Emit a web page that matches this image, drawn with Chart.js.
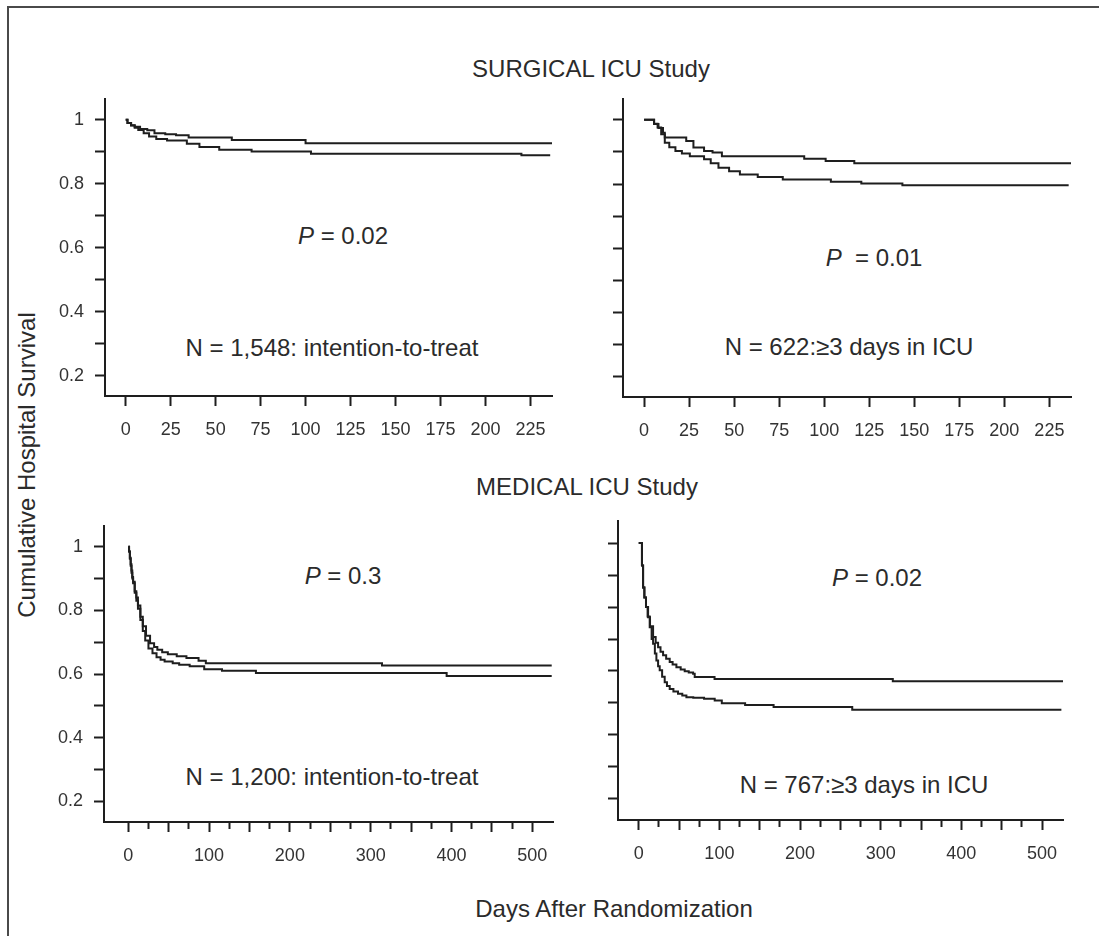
<!DOCTYPE html>
<html>
<head>
<meta charset="utf-8">
<script src="https://cdn.jsdelivr.net/npm/chart.js@4.4.1/dist/chart.umd.min.js"></script>
<style>
  body { margin: 0; background: #fff; width: 1099px; height: 936px; overflow: hidden; position: relative;
         font-family: "Liberation Sans", Arial, sans-serif; color: #2b2b2b; }
  .frame { position: absolute; left: 7px; top: 6px; width: 1100px; height: 940px;
           border-top: 2px solid #4a4a4a; border-left: 2px solid #4a4a4a; }
  canvas { position: absolute; }
  .txt { position: absolute; font-size: 24px; line-height: 24px; white-space: nowrap; transform: translate(-50%, -50%); }
  .ylab { transform: translate(-50%, -50%) rotate(-90deg); }
</style>
</head>
<body>
<div class="frame"></div>

<div class="txt" style="left:591px; top:69px;">SURGICAL ICU Study</div>
<div class="txt" style="left:587px; top:487px;">MEDICAL ICU Study</div>
<div class="txt" style="left:614px; top:909px;">Days After Randomization</div>
<div class="txt ylab" style="left:27px; top:465px;">Cumulative Hospital Survival</div>

<div class="txt" style="left:343px; top:236px;"><i>P</i> = 0.02</div>
<div class="txt" style="left:332px; top:348px;">N = 1,548: intention-to-treat</div>
<div class="txt" style="left:874px; top:258px;"><i>P</i>&nbsp; = 0.01</div>
<div class="txt" style="left:849px; top:347px;">N = 622:≥3 days in ICU</div>
<div class="txt" style="left:343px; top:576px;"><i>P</i> = 0.3</div>
<div class="txt" style="left:332px; top:777px;">N = 1,200: intention-to-treat</div>
<div class="txt" style="left:877px; top:578px;"><i>P</i> = 0.02</div>
<div class="txt" style="left:864px; top:785px;">N = 767:≥3 days in ICU</div>

<canvas id="c1"></canvas>
<canvas id="c2"></canvas>
<canvas id="c3"></canvas>
<canvas id="c4"></canvas>

<script>
// Surgical ICU, intention-to-treat (days, survival)
const surgIttDaysA = [0, 1, 3, 5, 8, 12, 16, 22, 28, 35, 59, 100, 237];
const surgIttSurvA = [1, 0.99, 0.983, 0.978, 0.971, 0.967, 0.958, 0.955, 0.952, 0.945, 0.937, 0.927, 0.927];
const surgIttDaysB = [0, 1, 3, 5, 7, 10, 13, 17, 23, 34, 41, 52, 70, 103, 220, 236];
const surgIttSurvB = [1, 0.99, 0.982, 0.975, 0.968, 0.958, 0.948, 0.94, 0.935, 0.925, 0.915, 0.906, 0.901, 0.894, 0.889, 0.889];

// Surgical ICU, >= 3 days in ICU
const surg3dDaysA = [0, 3.5, 5.6, 8, 10.5, 11.5, 23.4, 27.4, 33.3, 38, 43.2, 88.9, 100.8, 116.7, 237];
const surg3dSurvA = [1, 1, 0.987, 0.975, 0.96, 0.945, 0.934, 0.914, 0.903, 0.898, 0.887, 0.879, 0.872, 0.865, 0.865];
const surg3dDaysB = [0, 3.5, 5.5, 7.5, 9.5, 11.5, 14, 17.4, 21, 25.4, 33.3, 37, 41.3, 47.2, 53.2, 63.1, 77, 103.7, 120.6, 143.4, 235.7];
const surg3dSurvB = [1, 1, 0.988, 0.976, 0.955, 0.929, 0.915, 0.903, 0.895, 0.887, 0.877, 0.865, 0.851, 0.84, 0.83, 0.822, 0.814, 0.807, 0.802, 0.796, 0.796];

// Medical ICU, intention-to-treat
const medIttDaysA = [0, 1, 2, 3, 4, 5, 6, 8, 10, 12, 15, 18, 22, 27, 32, 36, 42, 49, 60, 72, 87, 96, 314, 524];
const medIttSurvA = [1, 0.985, 0.965, 0.945, 0.925, 0.905, 0.89, 0.86, 0.84, 0.815, 0.78, 0.75, 0.72, 0.697, 0.685, 0.676, 0.668, 0.662, 0.656, 0.65, 0.642, 0.634, 0.627, 0.627];
const medIttDaysB = [0, 1, 2, 3, 4, 5, 6, 8, 10, 12, 15, 18, 21, 25, 30, 35, 40, 45, 55, 63, 76, 94, 116, 158, 394, 524];
const medIttSurvB = [1, 0.985, 0.962, 0.94, 0.918, 0.9, 0.885, 0.855, 0.83, 0.805, 0.77, 0.735, 0.705, 0.68, 0.665, 0.653, 0.645, 0.639, 0.634, 0.629, 0.624, 0.615, 0.61, 0.603, 0.594, 0.594];

// Medical ICU, >= 3 days in ICU
const med3dDaysA = [0, 3, 4, 5.4, 7, 9, 11.6, 14, 17.8, 21, 24, 27, 30.2, 34, 38.4, 42, 46.7, 52, 57, 62, 67.4, 69.4, 94, 315, 527];
const med3dSurvA = [1, 1, 0.93, 0.862, 0.83, 0.8, 0.768, 0.74, 0.706, 0.688, 0.674, 0.66, 0.649, 0.638, 0.628, 0.62, 0.612, 0.605, 0.599, 0.595, 0.591, 0.581, 0.575, 0.568, 0.568];
const med3dDaysB = [0, 3, 4, 5.4, 7, 9, 11, 13.6, 16, 17.8, 20, 21.9, 24, 26, 29, 32.2, 35, 38.4, 43, 48.7, 54, 59.1, 67.6, 81, 94.2, 103, 131.9, 167.2, 264.7, 524];
const med3dSurvB = [1, 1, 0.93, 0.86, 0.83, 0.8, 0.77, 0.737, 0.7, 0.685, 0.655, 0.633, 0.615, 0.602, 0.582, 0.565, 0.553, 0.544, 0.536, 0.529, 0.523, 0.518, 0.516, 0.513, 0.508, 0.499, 0.494, 0.487, 0.479, 0.479];

// Tick values and labels
const survivalTicks = [0.2, 0.3, 0.4, 0.5, 0.6, 0.7, 0.8, 0.9, 1];
const survivalLabels = ['0.2', '', '0.4', '', '0.6', '', '0.8', '', '1'];
const surgicalDayTicks = [0, 25, 50, 75, 100, 125, 150, 175, 200, 225];
const surgicalDayLabels = ['0', '25', '50', '75', '100', '125', '150', '175', '200', '225'];
const medicalDayTicks = [0, 25, 50, 75, 100, 125, 150, 175, 200, 225, 250, 275, 300, 325, 350, 375, 400, 425, 450, 475, 500];
const medicalDayLabels = ['0', '', '', '', '100', '', '', '', '200', '', '', '', '300', '', '', '', '400', '', '', '', '500'];

document.addEventListener('DOMContentLoaded', function() {
    const ink = '#1e1e1e';
    const font = { family: '"Liberation Sans", Arial, sans-serif', size: 18 };

    // plot area position (axis lines) for each panel
    const panels = [
        { id: 'c1', left: 105, top: 99, w: 447, h: 297, xMin: -11.5, xMax: 237, yMin: 0.1365, yMax: 1.065,
          xTicks: surgicalDayTicks, xLabels: surgicalDayLabels, minor: false, yLabels: true,
          series: [[surgIttDaysA, surgIttSurvA], [surgIttDaysB, surgIttSurvB]] },
        { id: 'c2', left: 623, top: 99, w: 448, h: 298, xMin: -11.7, xMax: 237, yMin: 0.1365, yMax: 1.065,
          xTicks: surgicalDayTicks, xLabels: surgicalDayLabels, minor: false, yLabels: false,
          series: [[surg3dDaysA, surg3dSurvA], [surg3dDaysB, surg3dSurvB]] },
        { id: 'c3', left: 104, top: 526, w: 449, h: 296, xMin: -30, xMax: 525.6, yMin: 0.135, yMax: 1.065,
          xTicks: medicalDayTicks, xLabels: medicalDayLabels, minor: true, yLabels: true,
          series: [[medIttDaysA, medIttSurvA], [medIttDaysB, medIttSurvB]] },
        { id: 'c4', left: 618, top: 521, w: 445, h: 299, xMin: -25.7, xMax: 526, yMin: 0.134, yMax: 1.069,
          xTicks: medicalDayTicks, xLabels: medicalDayLabels, minor: true, yLabels: false,
          series: [[med3dDaysA, med3dSurvA], [med3dDaysB, med3dSurvB]] }
    ];

    panels.forEach(createChart);

    function createChart(p) {
        // padding big enough that the scales' own label padding never wins
        const padL = 70, padT = 30, padR = 30, padB = 50;
        const canvas = document.getElementById(p.id);
        canvas.width = p.w + padL + padR;
        canvas.height = p.h + padT + padB;
        canvas.style.left = (p.left - padL) + 'px';
        canvas.style.top = (p.top - padT) + 'px';

        const datasets = p.series.map(function(s) {
            return {
                data: s[0].map((d, i) => ({ x: d, y: s[1][i] })),
                borderColor: ink,
                borderWidth: 2,
                pointRadius: 0,
                stepped: true,
                fill: false
            };
        });

        new Chart(canvas.getContext('2d'), {
            type: 'line',
            data: { datasets: datasets },
            options: {
                responsive: false,
                animation: false,
                layout: { padding: { top: padT, right: padR, left: 0, bottom: 0 } },
                plugins: { legend: { display: false }, tooltip: { enabled: false } },
                scales: {
                    x: {
                        type: 'linear',
                        min: p.xMin,
                        max: p.xMax,
                        afterBuildTicks: axis => { axis.ticks = p.xTicks.map(v => ({ value: v })); },
                        afterFit: axis => { axis.height = padB; },
                        border: { display: true, color: ink, width: 2 },
                        grid: {
                            drawOnChartArea: false,
                            drawTicks: true,
                            tickLength: 10,
                            tickWidth: 2,
                            tickColor: ink,
                            tickBorderDash: ctx => (p.minor && ctx.tick && ctx.tick.value % 50 !== 0) ? [6, 30] : []
                        },
                        ticks: {
                            autoSkip: false,
                            maxRotation: 0,
                            padding: 13,
                            color: '#333',
                            font: font,
                            callback: (value, index) => p.xLabels[index]
                        }
                    },
                    y: {
                        type: 'linear',
                        min: p.yMin,
                        max: p.yMax,
                        afterBuildTicks: axis => { axis.ticks = survivalTicks.map(v => ({ value: v })); },
                        afterFit: axis => { axis.width = padL; },
                        border: { display: true, color: ink, width: 2 },
                        grid: {
                            drawOnChartArea: false,
                            drawTicks: true,
                            tickLength: 10,
                            tickWidth: 2,
                            tickColor: ink
                        },
                        ticks: {
                            autoSkip: false,
                            padding: 11,
                            color: '#333',
                            font: font,
                            callback: (value, index) => p.yLabels ? survivalLabels[index] : ''
                        }
                    }
                }
            }
        });
    }
});
</script>
</body>
</html>
